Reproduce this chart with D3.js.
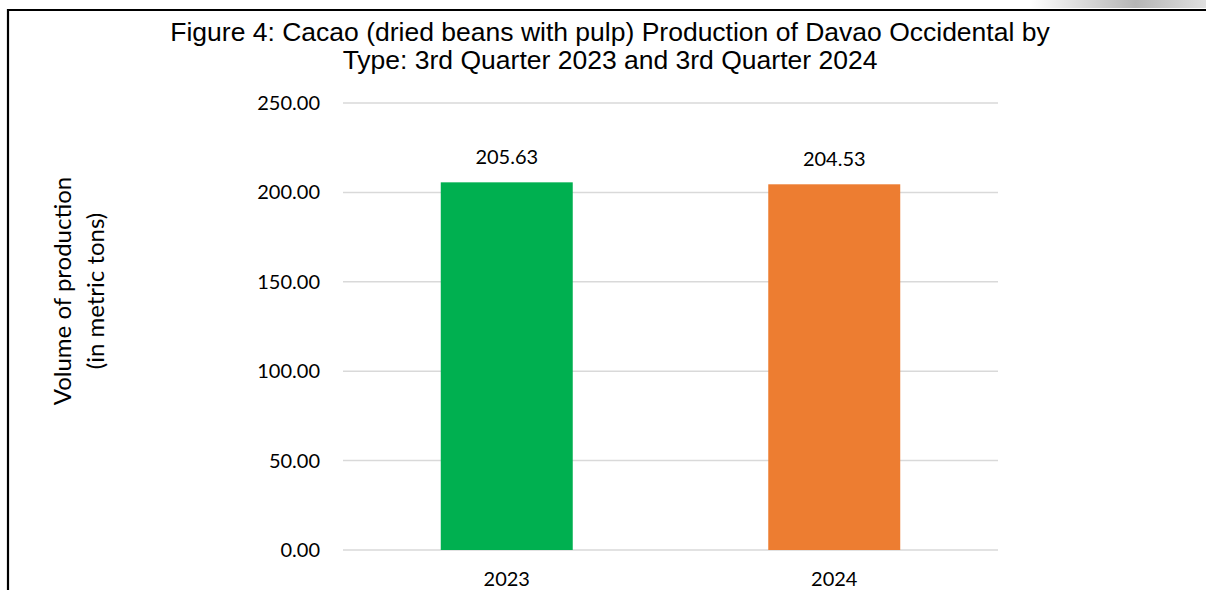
<!DOCTYPE html>
<html><head><meta charset="utf-8">
<script src="https://cdn.jsdelivr.net/npm/d3@7"></script>
<style>body{margin:0;background:#fff}svg{display:block}</style>
</head><body>
<script>
const categories = ["2023", "2024"];
const values = [205.63, 204.53];
const colors = ["#00b050", "#ed7d31"];
const yTicks = [0, 50, 100, 150, 200, 250];
const titleLines = ["Figure 4: Cacao (dried beans with pulp) Production of Davao Occidental by", "Type: 3rd Quarter 2023 and 3rd Quarter 2024"];
const yTitleLines = ["Volume of production", "(in metric tons)"];

(function(){
const W = 1206, H = 590;
const svg = d3.select("body").append("svg").attr("width", W).attr("height", H);

// top-right gradient decoration
const defs = svg.append("defs");
const g = defs.append("linearGradient").attr("id","gr");
g.append("stop").attr("offset","0").attr("stop-color","#fff");
g.append("stop").attr("offset","0.6").attr("stop-color","#b5b5b5");
g.append("stop").attr("offset","1").attr("stop-color","#e0e0e0");
svg.append("rect").attr("x",1030).attr("y",0).attr("width",176).attr("height",8).attr("fill","url(#gr)");

// frame
svg.append("path").attr("d","M8,590 V10 H1206").attr("fill","none").attr("stroke","#000").attr("stroke-width",2.2);

const pLeft = 343, pRight = 998, pTop = 103, pBottom = 550;
const x = d3.scaleBand().domain(categories).range([pLeft, pRight]).padding(0);
const y = d3.scaleLinear().domain([0, 250]).range([pBottom, pTop]);
const barW = x.bandwidth() * 0.403;

// gridlines
svg.append("g").selectAll("line").data(yTicks).join("line")
  .attr("x1", pLeft).attr("x2", pRight)
  .attr("y1", d => y(d)).attr("y2", d => y(d))
  .attr("stroke", "#d9d9d9").attr("stroke-width", 1.5);

// y axis labels
const yAxis = d3.axisLeft(y).tickValues(yTicks).tickFormat(d3.format(".2f")).tickSize(0).tickPadding(23);
const ya = svg.append("g").attr("transform", `translate(${pLeft},0)`).call(yAxis);
ya.select(".domain").remove();
ya.selectAll("text").attr("font-family","Lato, sans-serif").attr("font-size",20).attr("fill","#000");

// bars
svg.append("g").selectAll("rect").data(values).join("rect")
  .attr("x", (d,i) => x(categories[i]) + x.bandwidth()/2 - barW/2)
  .attr("width", barW)
  .attr("y", d => y(d))
  .attr("height", d => y(0) - y(d))
  .attr("fill", (d,i) => colors[i]);

// data labels
svg.append("g").selectAll("text").data(values).join("text")
  .attr("x", (d,i) => x(categories[i]) + x.bandwidth()/2)
  .attr("y", d => y(d) - 18)
  .attr("text-anchor","middle")
  .attr("font-family","Lato, sans-serif").attr("font-size",20).attr("fill","#000")
  .text(d => d3.format(".2f")(d));

// x axis labels
const xAxis = d3.axisBottom(x).tickSize(0).tickPadding(22);
const xa = svg.append("g").attr("transform", `translate(0,${pBottom})`).call(xAxis);
xa.select(".domain").remove();
xa.selectAll("text").attr("font-family","Lato, sans-serif").attr("font-size",20).attr("fill","#000");

// title
svg.append("g").selectAll("text").data(titleLines).join("text")
  .attr("x", 610).attr("y", (d,i) => 41 + i*28)
  .attr("text-anchor","middle")
  .attr("font-family","'Liberation Sans', Arial, sans-serif").attr("font-size",26.5).attr("fill","#000")
  .text(d => d);

// y title
svg.append("g").attr("transform","translate(0,291) rotate(-90)")
  .selectAll("text").data(yTitleLines).join("text")
  .attr("x", 0).attr("y", (d,i) => 71 + i*33)
  .attr("text-anchor","middle")
  .attr("font-family","Lato, sans-serif").attr("font-size",24).attr("fill","#000")
  .text(d => d);
})();
</script>
</body></html>
